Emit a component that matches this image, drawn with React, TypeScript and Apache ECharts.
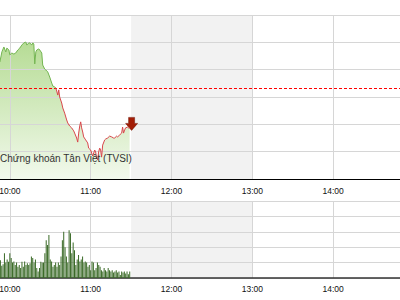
import React, { useEffect, useRef } from "react";
import * as echarts from "echarts";

// Price series: minutes since midnight and index value
const priceTimes = [
  590.4, 592.6, 594.1, 595.6, 597.0, 597.8, 599.3, 600.0, 601.5, 603.0, 604.4, 605.9, 607.4, 608.9,
  610.4, 611.9, 612.6, 614.1, 614.8, 616.3, 617.0, 617.8, 618.5, 619.3, 620.0, 621.5, 622.2, 623.7,
  624.4, 625.9, 626.7, 628.1, 629.6, 631.1, 631.9, 633.3, 634.1, 634.8, 635.6, 636.3, 637.0, 638.5,
  639.3, 640.7, 642.2, 643.0, 644.4, 645.9, 647.4, 648.1, 649.6, 650.4, 651.1, 651.9, 652.6, 653.3,
  654.1, 654.8, 656.3, 657.8, 658.5, 660.0, 660.7, 661.5, 663.0, 663.7, 664.4, 665.2, 665.9, 666.7,
  667.4, 668.1, 668.9, 670.4, 671.1, 672.6, 674.1, 675.6, 677.0, 677.8, 679.3, 680.0, 681.5, 683.0,
  683.7, 684.4, 685.2, 685.9, 687.4, 688.1, 688.9,
];
const priceValues = [
  490.21, 490.28, 490.65, 490.83, 490.65, 490.79, 490.72, 490.54, 490.61, 490.57, 490.61, 490.72, 490.79, 490.90,
  490.98, 491.01, 490.90, 490.98, 490.98, 490.90, 490.98, 490.94, 490.21, 490.65, 490.72, 490.76, 490.72, 490.61,
  490.17, 490.02, 489.99, 489.92, 489.73, 489.51, 489.40, 489.37, 489.33, 489.22, 489.07, 489.26, 489.00, 488.78,
  488.60, 488.41, 488.16, 488.05, 487.94, 487.87, 487.76, 487.68, 487.50, 487.35, 487.68, 487.94, 488.09, 487.87,
  487.72, 487.54, 487.43, 487.32, 487.13, 487.06, 486.95, 486.84, 487.06, 486.99, 486.77, 486.70, 486.99, 487.13,
  487.06, 486.80, 487.24, 487.43, 487.46, 487.50, 487.57, 487.54, 487.50, 487.50, 487.57, 487.54, 487.61, 487.68,
  487.90, 487.68, 487.79, 487.87, 487.90, 487.87, 487.87,
];
const referencePrice = 489.32;
const priceMin = 486;
const priceMax = 492;

// Volume: one bar per minute starting at volumeStart
const volumeStart = 593;
const volumeValues = [
  1.15, 0.8, 0.9, 1.6, 1.0, 1.2, 1.05, 1.6, 1.3, 1.0, 1.07, 0.85, 1.0, 0.73, 0.85, 0.65, 1.05, 0.73, 1.07, 0.85,
  0.95, 0.85, 0.95, 1.4, 1.3, 1.0, 1.2, 0.65, 0.43, 0.65, 1.05, 1.0, 1.0, 1.6, 2.45, 2.15, 2.8, 1.2, 1.07, 0.73,
  0.85, 1.0, 0.73, 1.0, 0.85, 1.4, 2.45, 3.0, 2.0, 1.4, 1.0, 3.1, 2.9, 1.6, 2.3, 1.8, 0.85, 1.2, 1.5, 1.07,
  1.2, 1.4, 1.0, 1.07, 1.0, 0.73, 0.85, 0.5, 1.07, 1.0, 0.5, 0.65, 1.0, 0.85, 0.73, 0.5, 0.43, 0.65, 0.5, 0.43,
  0.65, 0.5, 0.43, 0.5, 0.35, 0.43, 0.5, 0.35, 0.43, 0.2, 0.43, 0.35, 0.43, 0.3, 0.43, 0.25, 0.43,
];
const volumeMax = 5;

const sessionStart = 540; // 9:00
const sessionEnd = 900; // 15:00
const lunchStart = 690; // 11:30
const lunchEnd = 780; // 13:00
const firstLabel = 600; // 10:00
const lastLabel = 840; // 14:00
const sourceLabel = "Chứng khoán Tân Việt (TVSI)";

const fmtTime = (v: number) => {
  if (v < firstLabel || v > lastLabel) return "";
  const h = Math.floor(v / 60);
  return h + ":00";
};

export default function App() {
  const ref = useRef<HTMLDivElement>(null);
  useEffect(() => {
    if (!ref.current) return;
    const chart = echarts.init(ref.current, undefined, { renderer: "svg" });
    const priceData = priceTimes.map((t, i) => [t, priceValues[i]]);
    const cross = priceValues.findIndex((v) => v < referencePrice);
    const upData = priceData.slice(0, cross);
    const downData = priceData.slice(cross - 1);
    const volData = volumeValues.map((v, i) => [volumeStart + i, v]);
    const splitStyle = { lineStyle: { color: "#d6d6d6", width: 1 } };
    const labelStyle = {
      color: "#111",
      fontSize: 8.5,
      fontFamily: "Liberation Sans, Arial, sans-serif",
    };
    const shadeData = (lo: number, hi: number) => [
      [lunchStart, lo],
      [lunchEnd, hi],
    ];
    chart.setOption({
      animation: false,
      backgroundColor: "#fff",
      grid: [
        { left: -71, width: 485, top: 15, height: 164, outerBoundsMode: "none", containLabel: false },
        { left: -71, width: 485, top: 201, height: 77, outerBoundsMode: "none", containLabel: false },
      ],
      xAxis: [
        {
          type: "value",
          gridIndex: 0,
          min: sessionStart,
          max: sessionEnd,
          interval: 60,
          z: 3,
          axisLine: { show: true, onZero: false, lineStyle: { color: "#000", width: 1 } },
          axisTick: { show: false },
          splitLine: { show: true, ...splitStyle },
          axisLabel: { ...labelStyle, margin: 7, formatter: fmtTime },
        },
        {
          type: "value",
          gridIndex: 1,
          min: sessionStart,
          max: sessionEnd,
          interval: 60,
          z: 3,
          axisLine: { show: true, onZero: false, lineStyle: { color: "#333", width: 1.5 } },
          axisTick: { show: false },
          splitLine: { show: true, ...splitStyle },
          axisLabel: { ...labelStyle, margin: 6, formatter: fmtTime },
        },
      ],
      yAxis: [
        {
          type: "value",
          gridIndex: 0,
          min: priceMin,
          max: priceMax,
          interval: 1,
          z: 3,
          axisLine: { show: false },
          axisTick: { show: false },
          axisLabel: { show: false },
          splitLine: { show: true, ...splitStyle },
        },
        {
          type: "value",
          gridIndex: 1,
          min: 0,
          max: volumeMax,
          interval: 1,
          z: 3,
          axisLine: { show: false },
          axisTick: { show: false },
          axisLabel: { show: false },
          splitLine: { show: true, ...splitStyle },
        },
      ],
      series: [
        {
          type: "line",
          xAxisIndex: 0,
          yAxisIndex: 0,
          data: priceData,
          symbol: "none",
          z: 1,
          lineStyle: { width: 0 },
          areaStyle: {
            color: new echarts.graphic.LinearGradient(0, 0, 0, 1, [
              { offset: 0, color: "#b6dc95" },
              { offset: 1, color: "#f2f9ec" },
            ]),
            opacity: 1,
          },
          silent: true,
        },
        {
          type: "line",
          xAxisIndex: 0,
          yAxisIndex: 0,
          data: upData,
          symbol: "none",
          z: 5,
          color: "#74b552",
          lineStyle: { width: 1, color: "#74b552" },
          silent: true,
        },
        {
          type: "line",
          xAxisIndex: 0,
          yAxisIndex: 0,
          data: downData,
          symbol: "none",
          z: 5,
          color: "#d9474c",
          lineStyle: { width: 1, color: "#d9474c" },
          silent: true,
          markLine: {
            silent: true,
            symbol: "none",
            label: { show: false },
            lineStyle: { color: "#ff0000", type: [3, 2], width: 1 },
            data: [{ yAxis: referencePrice }],
          },
          markPoint: {
            silent: true,
            symbol: "path://M3,0 L9,0 L9,6 L12,6 L6,13 L0,6 L3,6 Z",
            symbolSize: [12, 13],
            symbolOffset: [2, -4],
            label: { show: false },
            itemStyle: { color: "#a31d06", borderColor: "#6e1200", borderWidth: 0.5 },
            data: [{ coord: [priceTimes[priceTimes.length - 1], priceValues[priceValues.length - 1]] }],
          },
        },
        {
          type: "bar",
          xAxisIndex: 1,
          yAxisIndex: 1,
          data: volData,
          barWidth: 1,
          z: 4,
          silent: true,
          itemStyle: { color: "#3a6a27" },
        },
        {
          type: "line",
          xAxisIndex: 0,
          yAxisIndex: 0,
          data: shadeData(priceMin, priceMax),
          symbol: "none",
          lineStyle: { width: 0 },
          z: 0,
          silent: true,
          markArea: {
            silent: true,
            itemStyle: { color: "#f2f2f2" },
            data: [[{ xAxis: lunchStart }, { xAxis: lunchEnd }]],
          },
        },
        {
          type: "line",
          xAxisIndex: 1,
          yAxisIndex: 1,
          data: shadeData(0, volumeMax),
          symbol: "none",
          lineStyle: { width: 0 },
          z: 0,
          silent: true,
          markArea: {
            silent: true,
            itemStyle: { color: "#f2f2f2" },
            data: [[{ xAxis: lunchStart }, { xAxis: lunchEnd }]],
          },
        },
      ],
      graphic: [
        {
          type: "text",
          left: 0,
          top: 153,
          z: 10,
          style: {
            text: sourceLabel,
            fill: "#333",
            fontSize: 10,
            fontFamily: "Liberation Sans, Arial, sans-serif",
          },
        },
      ],
    });
    return () => chart.dispose();
  }, []);
  return <div ref={ref} style={{ width: 400, height: 300, position: "absolute", left: 0, top: 0 }} />;
}
